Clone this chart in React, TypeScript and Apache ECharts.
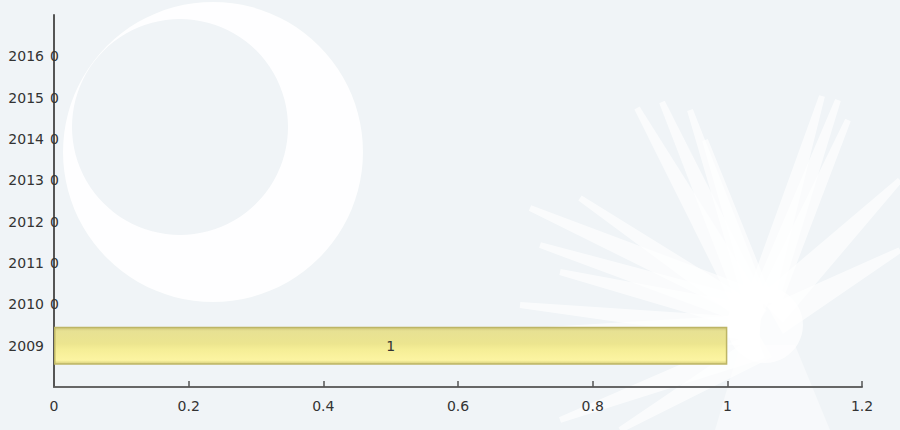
import React, { useEffect, useRef } from "react";
import * as echarts from "echarts";

const categories = ["", "2009", "2010", "2011", "2012", "2013", "2014", "2015", "2016", ""];
const values = [null, 1, 0, 0, 0, 0, 0, 0, 0, null];
const xTicks = [0, 0.2, 0.4, 0.6, 0.8, 1, 1.2];

const BG = "#f0f4f7";

// decorative palmetto fronds: [baseX, baseY, tipX, tipY, halfWidth]
const fronds: number[][] = [
  [745, 300, 637, 108, 14],
  [750, 300, 662, 102, 14],
  [755, 300, 690, 110, 12],
  [760, 300, 705, 140, 12],
  [760, 300, 822, 96, 14],
  [765, 300, 838, 100, 14],
  [770, 300, 848, 120, 12],
  [765, 310, 530, 208, 16],
  [760, 315, 540, 245, 14],
  [760, 320, 560, 272, 14],
  [760, 320, 580, 198, 12],
  [760, 330, 512, 332, 16],
  [760, 330, 520, 305, 12],
  [770, 310, 900, 180, 18],
  [775, 320, 900, 250, 16],
  [760, 345, 560, 420, 14],
  [765, 345, 620, 430, 14],
];

function frondPoints(f: number[]) {
  const [bx, by, tx, ty, hw] = f;
  const dx = tx - bx, dy = ty - by;
  const len = Math.sqrt(dx * dx + dy * dy);
  const nx = -dy / len, ny = dx / len;
  return [
    [bx + nx * hw, by + ny * hw],
    [tx + nx * 3, ty + ny * 3],
    [tx - nx * 3, ty - ny * 3],
    [bx - nx * hw, by - ny * hw],
  ];
}

export default function App() {
  const ref = useRef<HTMLDivElement>(null);
  useEffect(() => {
    if (!ref.current) return;
    const chart = echarts.init(ref.current, null, { renderer: "svg" });
    const graphics: any[] = [
      { type: "circle", z: -10, silent: true, shape: { cx: 213, cy: 152, r: 150 }, style: { fill: "#ffffff", opacity: 0.9 } },
      { type: "circle", z: -9, silent: true, shape: { cx: 180, cy: 127, r: 108 }, style: { fill: BG } },
      ...fronds.map((f) => ({
        type: "polygon",
        z: -10,
        silent: true,
        shape: { points: frondPoints(f) },
        style: { fill: "#ffffff", opacity: 0.65 },
      })),
      { type: "circle", z: -10, silent: true, shape: { cx: 765, cy: 325, r: 38 }, style: { fill: "#ffffff", opacity: 0.7 } },
      { type: "polygon", z: -10, silent: true, shape: { points: [[740, 345], [795, 345], [830, 430], [715, 430]] }, style: { fill: "#ffffff", opacity: 0.45 } },
    ];
    chart.setOption({
      animation: false,
      backgroundColor: BG,
      graphic: graphics,
      grid: { left: 54, right: 38, top: 15, bottom: 43 },
      xAxis: {
        type: "value",
        min: xTicks[0],
        max: xTicks[xTicks.length - 1],
        interval: 0.2,
        splitLine: { show: false },
        axisLine: { show: true, lineStyle: { color: "#666", width: 2 } },
        axisTick: { show: true, inside: true, length: 6, lineStyle: { color: "#555", width: 1.5 } },
        axisLabel: {
          color: "#333",
          fontFamily: "DejaVu Sans",
          fontSize: 14,
          margin: 12,
          formatter: (v: number) => String(Math.round(v * 10) / 10),
        },
      },
      yAxis: {
        type: "category",
        data: categories,
        boundaryGap: false,
        axisLine: { show: true, lineStyle: { color: "#555", width: 2 } },
        axisTick: { show: false },
        axisLabel: { color: "#333", fontFamily: "DejaVu Sans", fontSize: 14, margin: 10 },
      },
      series: [
        {
          type: "bar",
          barWidth: "92%",
          data: values.map((v) =>
            v === null
              ? null
              : {
                  value: v,
                  itemStyle: v === 0 ? { borderWidth: 0, color: "rgba(0,0,0,0)" } : {},
                  label:
                    v === 0
                      ? { show: true, position: "left", distance: -5, color: "#333" }
                      : { show: true, position: "inside", color: "#333" },
                }
          ),
          label: { fontFamily: "DejaVu Sans", fontSize: 14 },
          itemStyle: {
            borderColor: "#bdb565",
            borderWidth: 1.5,
            color: new echarts.graphic.LinearGradient(0, 0, 0, 1, [
              { offset: 0, color: "#cfc77a" },
              { offset: 0.1, color: "#e7e193" },
              { offset: 0.45, color: "#ece58f" },
              { offset: 0.6, color: "#f5ee96" },
              { offset: 0.9, color: "#fcf4a2" },
              { offset: 1, color: "#d6ce7c" },
            ]),
          },
        },
      ],
    });
    return () => chart.dispose();
  }, []);
  return (
    <div
      ref={ref}
      style={{ position: "fixed", left: 0, top: 0, width: 900, height: 430 }}
    />
  );
}
